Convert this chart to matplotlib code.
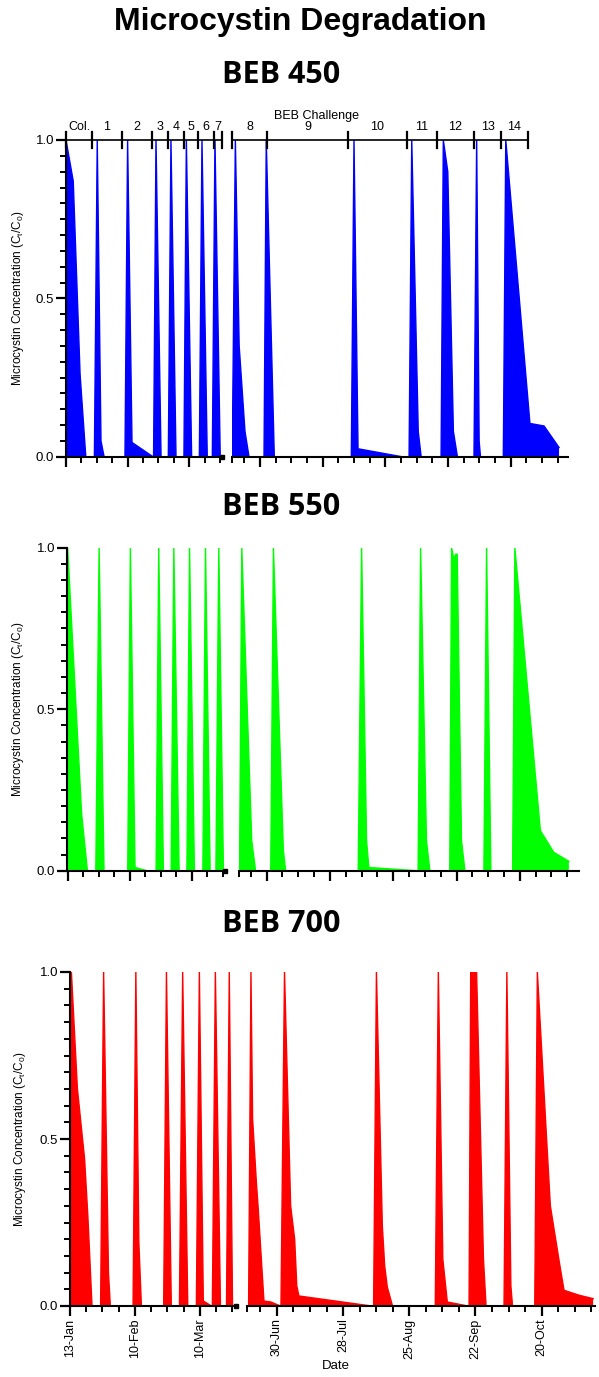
import numpy as np
import pandas as pd
import matplotlib
matplotlib.use("Agg")
import matplotlib.pyplot as plt
from matplotlib.ticker import FixedLocator, FixedFormatter

plt.rcParams['font.family'] = ['Liberation Sans', 'DejaVu Sans']

# ---------------- data (day of year, 2019) ----------------
beb450_day = [13, 16.3, 19.4, 22.0,
              25.9, 27.2, 28.9, 30.3,
              39.8, 41.0, 43.0, 52.5,
              52.8, 53.9, 56.2,
              59.5, 60.7, 63.0,
              66.6, 67.7, 70.1,
              73.6, 74.8, 77.2,
              79.5, 80.7, 83.1,
              168.6, 170.0, 171.7, 174.3, 176.1,
              182.8, 183.8, 187.4,
              221.8, 223.0, 224.8, 244.3,
              247.6, 248.8, 251.7, 253.0,
              261.9, 262.9, 264.9, 267.4, 269.2,
              276.6, 277.8, 278.9, 279.5,
              289.7, 290.8, 301.6, 307.9, 314.6]
beb450_val = [1.0, 0.87, 0.26, 0.0,
              0.0, 1.0, 0.05, 0.0,
              0.0, 1.0, 0.045, 0.0,
              0.0, 1.0, 0.0,
              0.0, 1.0, 0.0,
              0.0, 1.0, 0.0,
              0.0, 1.0, 0.0,
              0.0, 1.0, 0.0,
              0.0, 1.0, 0.35, 0.08, 0.0,
              0.0, 1.0, 0.0,
              0.0, 1.0, 0.025, 0.0,
              0.0, 1.0, 0.08, 0.0,
              0.0, 1.0, 0.90, 0.08, 0.0,
              0.0, 1.0, 0.05, 0.0,
              0.0, 1.0, 0.105, 0.097, 0.029]

beb550_day = [13, 19.3, 21.9,
              25.7, 27.2, 29.4,
              40.1, 41.3, 43.4, 48.7,
              52.9, 54.1, 56.2,
              59.7, 60.9, 63.3,
              66.8, 68.0, 70.2,
              74.0, 75.2, 77.3,
              79.9, 81.2, 83.3,
              169.0, 170.0, 174.4, 176.1,
              182.8, 184.0, 188.4, 189.4,
              221.5, 223.0, 225.2, 226.2, 247.3,
              248.0, 249.1, 251.7, 253.2,
              262.0, 262.8, 263.8, 264.7, 265.3, 267.2, 268.7,
              277.1, 278.3, 280.2,
              289.8, 290.8, 302.1, 308.0, 314.7]
beb550_val = [1.0, 0.176, 0.0,
              0.0, 1.0, 0.0,
              0.0, 1.0, 0.01, 0.0,
              0.0, 1.0, 0.0,
              0.0, 1.0, 0.0,
              0.0, 1.0, 0.0,
              0.0, 1.0, 0.0,
              0.0, 1.0, 0.0,
              0.0, 1.0, 0.093, 0.0,
              0.0, 1.0, 0.062, 0.0,
              0.0, 1.0, 0.093, 0.01, 0.0,
              0.0, 1.0, 0.093, 0.0,
              0.0, 1.0, 0.966, 0.98, 0.98, 0.093, 0.0,
              0.0, 1.0, 0.0,
              0.0, 1.0, 0.124, 0.057, 0.029]

beb700_day = [13, 13.6, 16.2, 19.3, 20.7, 22.5,
              26.2, 27.5, 29.6, 30.4,
              40.2, 41.4, 42.7, 43.8,
              53.4, 54.6, 56.7,
              60.2, 61.6, 63.8,
              67.5, 68.8, 70.5, 74.0,
              74.4, 75.7, 77.9,
              80.5, 81.7, 83.1,
              169.0, 170.0, 170.7, 172.3, 173.0, 175.5, 178.4, 182.5,
              182.7, 184.2, 186.8, 188.5, 189.4, 190.3, 221.0,
              221.9, 223.1, 225.6, 226.6, 227.7, 229.9,
              248.0, 249.3, 251.2, 253.1, 261.8,
              262.3, 263.0, 265.5, 268.4, 269.5,
              277.1, 278.3, 280.0, 280.7,
              290.1, 291.2, 296.7, 300.6, 302.5, 309.0, 314.8]
beb700_val = [1.0, 1.0, 0.65, 0.44, 0.27, 0.0,
              0.0, 1.0, 0.10, 0.0,
              0.0, 1.0, 0.19, 0.0,
              0.0, 1.0, 0.0,
              0.0, 1.0, 0.0,
              0.0, 1.0, 0.015, 0.0,
              0.0, 1.0, 0.0,
              0.0, 1.0, 0.0,
              0.0, 1.0, 0.56, 0.37, 0.30, 0.015, 0.012, 0.0,
              0.0, 1.0, 0.30, 0.20, 0.06, 0.03, 0.0,
              0.0, 1.0, 0.24, 0.12, 0.057, 0.0,
              0.0, 1.0, 0.14, 0.012, 0.0,
              0.0, 1.0, 1.0, 0.14, 0.0,
              0.0, 1.0, 0.06, 0.0,
              0.0, 1.0, 0.30, 0.127, 0.047, 0.032, 0.022]

date_labels_left = ['13-Jan', '10-Feb', '10-Mar']
date_labels_right = ['30-Jun', '28-Jul', '25-Aug', '22-Sep', '20-Oct']

phase_labels_left = ['Col.', '1', '2', '3', '4', '5', '6', '7']
phase_bounds_left = [13, 24.8, 38.5, 52.1, 59.4, 66.6, 73.0, 80.3, 83.9]
phase_labels_right = ['8', '9', '10', '11', '12', '13', '14']
phase_bounds_right = [168.5, 184.1, 220.3, 246.7, 260.1, 276.6, 288.7, 300.7]

panel_titles = ['BEB 450', 'BEB 550', 'BEB 700']
panel_colors = ['#0000ff', '#00ff00', '#ff0000']
ylabel = 'Microcystin Concentration (C$_{\\mathregular{t}}$/C$_{\\mathregular{0}}$)'


def doy(lab):
    return pd.Timestamp(lab + '-2019').dayofyear


major_left = [doy(l) for l in date_labels_left]
major_right = [doy(l) for l in date_labels_right]

# ---------------- figure ----------------
W, H = 599, 1377
fig = plt.figure(figsize=(W / 100, H / 100), dpi=100)


def px_axes(x0, x1, yt, yb):
    return fig.add_axes([x0 / W, 1 - yb / H, (x1 - x0) / W, (yb - yt) / H])


layouts = [
    dict(left=(66, 222), right=(232, 568), yt=140, yb=456.7, xl=(13, 83.9), xr=(168.5, 318.6),
         title_y=75, ylab_x=18),
    dict(left=(67, 225), right=(239.3, 578.6), yt=547.7, yb=870.7, xl=(12.7, 84.0), xr=(168.9, 319.0),
         title_y=507, ylab_x=18),
    dict(left=(70, 236), right=(246.7, 595), yt=972, yb=1306, xl=(13, 84.6), xr=(168.2, 315.6),
         title_y=924, ylab_x=20),
]
series = [(beb450_day, beb450_val), (beb550_day, beb550_val), (beb700_day, beb700_val)]

SPW = 1.5
for i, (lay, (dd, vv), col, ttl) in enumerate(zip(layouts, series, panel_colors, panel_titles)):
    axL = px_axes(lay['left'][0], lay['left'][1], lay['yt'], lay['yb'])
    axR = px_axes(lay['right'][0], lay['right'][1], lay['yt'], lay['yb'])
    for ax, xl in ((axL, lay['xl']), (axR, lay['xr'])):
        ax.fill_between(dd, vv, 0, color=col, lw=0, zorder=1)
        ax.plot(dd, vv, color=col, lw=1.0, zorder=1.5)
        ax.set_xlim(*xl)
        ax.set_ylim(0, 1)
        ax.set_facecolor('none')
        for s in ('top', 'right'):
            ax.spines[s].set_visible(False)
        ax.spines['bottom'].set_linewidth(SPW)
        ax.tick_params(axis='x', which='major', direction='out', length=7, width=1.6)
        ax.tick_params(axis='x', which='minor', direction='out', length=4, width=1.4)
    # x ticks
    axL.xaxis.set_major_locator(FixedLocator(major_left))
    axL.xaxis.set_minor_locator(FixedLocator(list(np.arange(13, 84, 7))))
    axR.xaxis.set_major_locator(FixedLocator(major_right))
    axR.xaxis.set_minor_locator(FixedLocator([lay['xr'][0]] + list(np.arange(174, 316, 7))))
    if i == 2:
        axL.xaxis.set_major_formatter(FixedFormatter(date_labels_left))
        axR.xaxis.set_major_formatter(FixedFormatter(date_labels_right))
        for ax in (axL, axR):
            ax.tick_params(axis='x', which='major', labelsize=9, labelrotation=90, pad=2)
    else:
        axL.set_xticklabels([])
        axR.set_xticklabels([])
    # y axis
    axR.spines['left'].set_visible(False)
    axR.tick_params(axis='y', which='both', left=False, labelleft=False)
    axL.spines['left'].set_linewidth(SPW)
    axL.yaxis.set_major_locator(FixedLocator([0, 0.5, 1.0]))
    axL.yaxis.set_major_formatter(FixedFormatter(['0.0', '0.5', '1.0']))
    axL.yaxis.set_minor_locator(FixedLocator(list(np.arange(0, 1.0001, 0.05))))
    axL.tick_params(axis='y', which='major', direction='out', length=7, width=1.6, labelsize=9.5, pad=1.5)
    axL.tick_params(axis='y', which='minor', direction='out', length=4, width=1.4)
    # break marker
    axL.plot([lay['xl'][1]], [0], marker='s', ms=3.2, color='k', clip_on=False, zorder=6)
    # labels
    yc = (lay['yt'] + lay['yb']) / 2
    fig.text(lay['ylab_x'] / W, 1 - yc / H, ylabel, rotation=90, ha='center', va='center', fontsize=8.5)
    fig.text(281 / W, 1 - lay['title_y'] / H, ttl, ha='center', va='center', fontsize=22,
             fontweight='bold', family=['Open Sans', 'DejaVu Sans'])

    if i == 0:
        for ax, bounds, labs in ((axL, phase_bounds_left, phase_labels_left),
                                 (axR, phase_bounds_right, phase_labels_right)):
            ax.plot([bounds[0], bounds[-1]], [1.0, 1.0], color='k', lw=1.2, clip_on=False, zorder=7)
            for b in bounds:
                ax.plot([b, b], [0.976, 1.024], color='k', lw=1.6, clip_on=False, zorder=7)
            for a, b, lab in zip(bounds[:-1], bounds[1:], labs):
                ax.text((a + b) / 2, 1.042, lab, ha='center', va='center', fontsize=9, clip_on=False)
        fig.text(316 / W, 1 - 116 / H, 'BEB Challenge', ha='center', va='center', fontsize=9)
    if i == 2:
        fig.text(336 / W, 1 - 1366 / H, 'Date', ha='center', va='center', fontsize=9.5)

fig.text(300 / W, 1 - 22 / H, 'Microcystin Degradation', ha='center', va='center',
         fontsize=23, fontweight='bold')

fig.savefig('out.png', dpi=100)
